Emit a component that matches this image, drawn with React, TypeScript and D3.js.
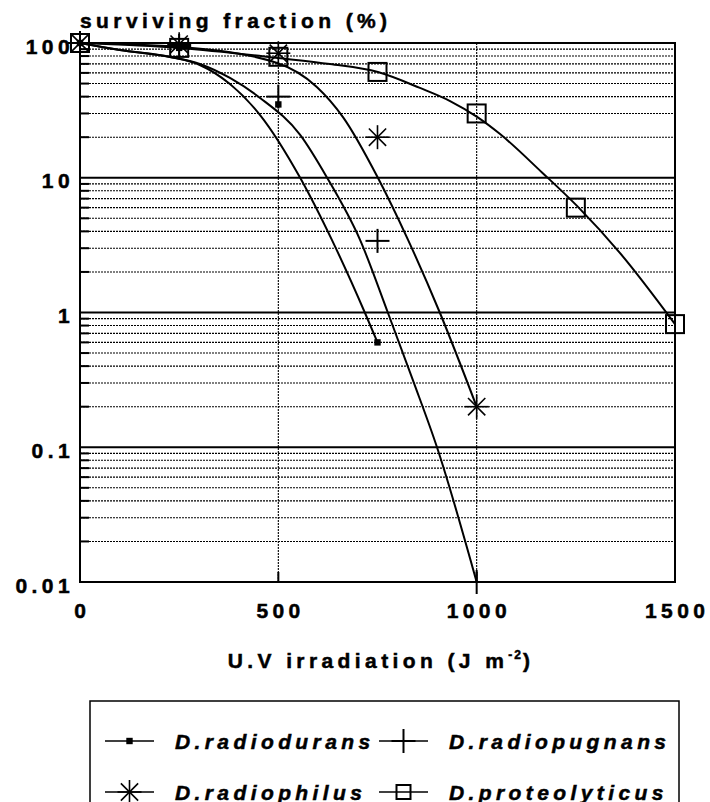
import React from "react";
import * as d3 from "d3";

// ---- data ----
const xTicks = [0, 500, 1000, 1500];
const yTicks = [0.01, 0.1, 1, 10, 100];
const yTickLabels = ["0.01", "0.1", "1", "10", "100"];
const xGrid = [500, 1000];

const seriesNames = ["D.radiodurans", "D.radiopugnans", "D.radiophilus", "D.proteolyticus"];

// measured points
const radioduransDose = [0, 250, 500, 750];
const radioduransVal = [100, 92, 35, 0.6];
const radiopugnansDose = [0, 250, 500, 750, 1000];
const radiopugnansVal = [100, 95, 40, 3.4, 0.01];
const radiophilusDose = [0, 250, 500, 750, 1000];
const radiophilusVal = [100, 98, 84, 20, 0.2];
const proteolyticusDose = [0, 250, 500, 750, 1000, 1250, 1500];
const proteolyticusVal = [100, 92, 79, 61, 30, 6, 0.82];

// fitted curves
const radioduransCurveDose = [0, 100, 227, 302, 378, 454, 555, 635, 718, 750];
const radioduransCurveVal = [100, 88.7, 78.7, 68.7, 49.6, 29.2, 10, 3.46, 1.0, 0.6];
const radiopugnansCurveDose = [0, 101, 227, 302, 378, 454, 555, 623, 706, 776, 839, 900, 1000];
const radiopugnansCurveVal = [100, 88.7, 78.7, 69.9, 55, 39.1, 20.8, 10, 3.46, 1, 0.316, 0.1, 0.01];
const radiophilusCurveDose = [0, 252, 497, 597, 663, 751, 827, 907, 1000];
const radiophilusCurveVal = [100, 93.4, 71.1, 47.2, 28.2, 10, 3.46, 1, 0.2];
const proteolyticusCurveDose = [0, 252, 499, 630, 751, 857, 933, 1001, 1059, 1164, 1253, 1361, 1500];
const proteolyticusCurveVal = [100, 91.8, 77.4, 69.8, 60.9, 46.4, 37.1, 28.3, 21.1, 11.0, 6.18, 2.77, 0.82];

const FONT = "'Liberation Sans', Arial, Helvetica, sans-serif";
const LS = 4.4;

type Kind = "dot" | "plus" | "star" | "box";

function Marker({ kind, cx, cy, r }: { kind: Kind; cx: number; cy: number; r: number }) {
  if (kind === "dot") {
    return <rect x={cx - 3.2} y={cy - 3.2} width={6.4} height={6.4} fill="#000" />;
  }
  if (kind === "plus") {
    return (
      <g stroke="#000" strokeWidth={2}>
        <line x1={cx - r} x2={cx + r} y1={cy} y2={cy} />
        <line x1={cx} x2={cx} y1={cy - r} y2={cy + r} />
      </g>
    );
  }
  if (kind === "star") {
    const d = r * 0.72;
    return (
      <g stroke="#000" strokeWidth={1.6}>
        <line x1={cx - r} x2={cx + r} y1={cy} y2={cy} />
        <line x1={cx} x2={cx} y1={cy - r} y2={cy + r} />
        <line x1={cx - d} x2={cx + d} y1={cy - d} y2={cy + d} />
        <line x1={cx - d} x2={cx + d} y1={cy + d} y2={cy - d} />
      </g>
    );
  }
  return <rect x={cx - r} y={cy - r} width={2 * r} height={2 * r} fill="none" stroke="#000" strokeWidth={2} />;
}

export default function App() {
  const x = d3.scaleLinear().domain([0, 1500]).range([80, 675]);
  const y = d3.scaleLog().domain([0.01, 100]).range([582, 43]);
  const line = d3
    .line<[number, number]>()
    .x((d) => x(d[0]))
    .y((d) => y(d[1]))
    .curve(d3.curveMonotoneX);

  const zip = (a: number[], b: number[]) => a.map((v, i) => [v, b[i]] as [number, number]);

  const curves = [
    zip(radioduransCurveDose, radioduransCurveVal),
    zip(radiopugnansCurveDose, radiopugnansCurveVal),
    zip(radiophilusCurveDose, radiophilusCurveVal),
    zip(proteolyticusCurveDose, proteolyticusCurveVal),
  ];
  const points: { kind: Kind; r: number; pts: [number, number][] }[] = [
    { kind: "box", r: 9, pts: zip(proteolyticusDose, proteolyticusVal) },
    { kind: "star", r: 12, pts: zip(radiophilusDose, radiophilusVal) },
    { kind: "plus", r: 12, pts: zip(radiopugnansDose, radiopugnansVal) },
    { kind: "dot", r: 3, pts: zip(radioduransDose, radioduransVal) },
  ];

  const minors: number[] = [];
  [0.01, 0.1, 1, 10].forEach((dec) => {
    for (let m = 2; m <= 9; m++) minors.push(dec * m);
  });
  const majors = [0.1, 1, 10];

  const x0 = x(0), x1 = x(1500), yTop = y(100), yBot = y(0.01);

  const legendItems: { kind: Kind; name: string; lx: number; ly: number }[] = [
    { kind: "dot", name: seriesNames[0], lx: 105, ly: 741 },
    { kind: "plus", name: seriesNames[1], lx: 379, ly: 741 },
    { kind: "star", name: seriesNames[2], lx: 105, ly: 792 },
    { kind: "box", name: seriesNames[3], lx: 379, ly: 792 },
  ];

  const textStroke = { stroke: "#000", strokeWidth: 0.5 };

  return (
    <svg
      width={710}
      height={802}
      style={{ position: "absolute", left: 0, top: 0, background: "#fff" }}
      fontFamily={FONT}
      fontWeight="bold"
    >
      <rect width={710} height={802} fill="#fff" />
      {/* minor gridlines */}
      {minors.map((v) => (
        <g key={"mn" + v}>
          <line x1={x0} x2={x1} y1={y(v)} y2={y(v)} stroke="#000" strokeWidth={1.1} strokeDasharray="2 1" />
          <line x1={x0} x2={x0 + 9} y1={y(v)} y2={y(v)} stroke="#000" strokeWidth={2} />
        </g>
      ))}
      {/* vertical dotted grid */}
      {xGrid.map((v) => (
        <g key={"vg" + v}>
          <line x1={x(v)} x2={x(v)} y1={yTop} y2={yBot} stroke="#000" strokeWidth={1.1} strokeDasharray="2 1" />
          <line x1={x(v)} x2={x(v)} y1={yBot - 10} y2={yBot} stroke="#000" strokeWidth={2} />
        </g>
      ))}
      {/* major gridlines */}
      {majors.map((v) => (
        <line key={"mj" + v} x1={x0} x2={x1} y1={y(v)} y2={y(v)} stroke="#000" strokeWidth={2} />
      ))}
      {/* frame */}
      <rect x={x0} y={yTop} width={x1 - x0} height={yBot - yTop} fill="none" stroke="#000" strokeWidth={2} />

      {/* curves */}
      {curves.map((c, i) => (
        <path key={"c" + i} d={line(c) || ""} fill="none" stroke="#000" strokeWidth={2} />
      ))}
      {/* markers */}
      {points.map((s, i) => (
        <g key={"p" + i}>
          {s.pts.map((p, j) => (
            <Marker key={j} kind={s.kind} cx={x(p[0])} cy={y(p[1])} r={s.r} />
          ))}
        </g>
      ))}

      {/* y tick labels */}
      {yTicks.map((v, i) => (
        <text key={"yt" + v} x={74} y={y(v) + 10.5} textAnchor="end" fontSize={21} letterSpacing={LS} {...textStroke}>
          {yTickLabels[i]}
        </text>
      ))}
      {/* x tick labels */}
      {xTicks.map((v) => (
        <text key={"xt" + v} x={x(v) + 2.2} y={618} textAnchor="middle" fontSize={21} letterSpacing={LS} {...textStroke}>
          {String(v)}
        </text>
      ))}
      {/* y title */}
      <text x={80} y={28} fontSize={21} letterSpacing={LS} {...textStroke}>
        surviving fraction (%)
      </text>
      {/* x title */}
      <text x={381} y={668} textAnchor="middle" fontSize={21} letterSpacing={LS} {...textStroke}>
        U.V irradiation (J m
        <tspan fontSize={12} dy={-9} letterSpacing={2}>-2</tspan>
        <tspan dy={9}>)</tspan>
      </text>

      {/* legend */}
      <rect x={90} y={701} width={589} height={140} fill="none" stroke="#000" strokeWidth={1.5} />
      {legendItems.map((it) => (
        <g key={it.name}>
          <line x1={it.lx} x2={it.lx + 49} y1={it.ly} y2={it.ly} stroke="#000" strokeWidth={1.5} />
          <Marker kind={it.kind} cx={it.lx + 24.5} cy={it.ly} r={it.kind === "box" ? 7 : 12} />
          <text x={it.lx + 70} y={it.ly + 7.5} fontSize={21} fontStyle="italic" letterSpacing={LS} {...textStroke}>
            {it.name}
          </text>
        </g>
      ))}
    </svg>
  );
}
